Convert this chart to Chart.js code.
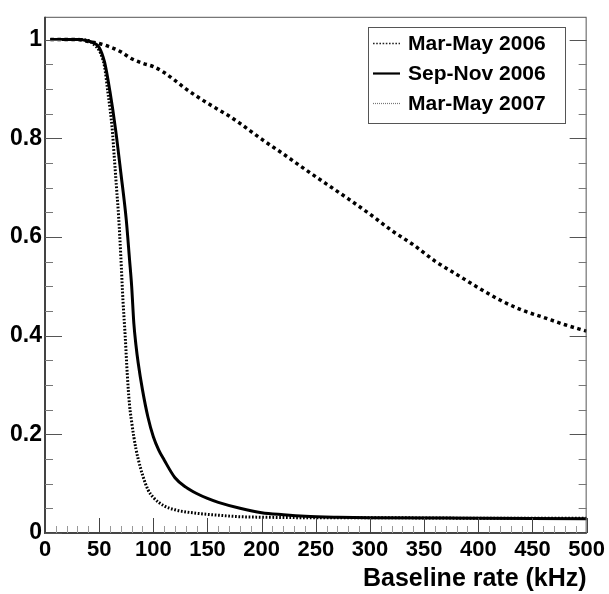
<!DOCTYPE html>
<html>
<head>
<meta charset="UTF-8" />
<title>Baseline rate efficiency</title>
<style>
  html,body{margin:0;padding:0;background:#fff;}
  #wrap{width:609px;height:594px;position:relative;}
</style>
<script src="https://cdn.jsdelivr.net/npm/chart.js"></script>
</head>
<body>
<div id="wrap"><canvas id="chart" width="609" height="594"></canvas></div>
<script>
/* ---- data ---- */
const rateMar06 = [5,20,30,40,50,60,70,80,90,100,110,120,130,140,150,160,170,180,190,200,220,240,260,280,300,320,340,360,380,400,420,440,460,480,500];
const effMar06  = [1.0,1.0,1.0,0.996,0.992,0.985,0.975,0.961,0.952,0.945,0.933,0.917,0.900,0.885,0.871,0.858,0.845,0.830,0.814,0.798,0.768,0.737,0.707,0.677,0.646,0.613,0.584,0.551,0.524,0.497,0.472,0.452,0.437,0.422,0.409];

const rateSep06 = [5,20,30,40,45,50,55,60,65,70,75,78,80,82,84,86,90,95,100,105,110,120,130,140,150,160,180,200,220,240,270,300,400,500];
const effSep06  = [1.0,1.0,1.0,0.997,0.993,0.984,0.954,0.894,0.82,0.73,0.635,0.555,0.50,0.425,0.38,0.345,0.29,0.235,0.195,0.168,0.148,0.112,0.093,0.080,0.070,0.062,0.050,0.041,0.037,0.034,0.032,0.031,0.030,0.029];

const rateMar07 = [5,20,30,40,45,50,53,55,58,60,62,64,66,68,70,72,74,76,78,80,82,84,86,90,95,100,110,120,140,160,180,200,250,300,400,500];
const effMar07  = [1.0,1.0,1.0,0.998,0.99,0.978,0.962,0.945,0.894,0.86,0.82,0.76,0.70,0.64,0.56,0.47,0.40,0.32,0.26,0.225,0.195,0.17,0.15,0.118,0.088,0.072,0.055,0.047,0.040,0.036,0.033,0.032,0.031,0.031,0.030,0.030];

const seriesNames = ['Mar-May 2006','Sep-Nov 2006','Mar-May 2007'];

const xTicks = [0,50,100,150,200,250,300,350,400,450,500];
const yTicks = [0,0.2,0.4,0.6,0.8,1];
const yTickLabels = ['0','0.2','0.4','0.6','0.8','1'];
const X_MAX = 500, Y_MAX = 1.046;

const FONT = '"Liberation Sans", Arial, Helvetica, sans-serif';

function pts(xs, ys){ return xs.map((x,i)=>({x:x,y:ys[i]})); }

/* ---- frame, inward ticks and legend, ROOT style ---- */
const rootFrame = {
  id:'rootFrame',
  afterDatasetsDraw(chart){
    const c = chart.ctx, a = chart.chartArea;
    const xs = chart.scales.x, ys = chart.scales.y;
    c.save();
    // frame
    c.strokeStyle = '#555'; c.lineWidth = 1;
    c.strokeRect(a.left+0.5, a.top+0.5, a.right-a.left-1, a.bottom-a.top-1);
    c.lineWidth = 2; c.strokeStyle = '#444';
    c.beginPath(); c.moveTo(a.left, a.top); c.lineTo(a.left, a.bottom); c.lineTo(a.right, a.bottom); c.stroke();

    // x ticks (bottom, pointing up)
    c.lineWidth = 1;
    for(let v=0; v<=X_MAX; v+=10){
      const major = v % 50 === 0;
      const px = Math.round(xs.getPixelForValue(v)) + 0.5;
      c.strokeStyle = major ? '#444' : '#999';
      c.beginPath(); c.moveTo(px, a.bottom); c.lineTo(px, a.bottom - (major ? 15 : 7)); c.stroke();
    }
    // y ticks (left and right, pointing in)
    for(let k=0; k<=20; k++){
      const v = k*0.05;
      const major = k % 4 === 0;
      const py = Math.round(ys.getPixelForValue(v)) + 0.5;
      const len = major ? 17 : 8;
      c.strokeStyle = major ? '#555' : '#777';
      c.beginPath(); c.moveTo(a.left, py); c.lineTo(a.left + len, py); c.stroke();
      c.beginPath(); c.moveTo(a.right, py); c.lineTo(a.right - len, py); c.stroke();
    }

    // legend
    const bx = 368, by = 27, bw = 197, bh = 96;
    c.fillStyle = '#fff'; c.fillRect(bx, by, bw, bh);
    c.strokeStyle = '#555'; c.lineWidth = 1;
    c.strokeRect(bx+0.5, by+0.5, bw, bh);
    const legendStyle = [
      {w:1.6, dash:[1.6,1.6], col:'#222'},
      {w:2.2, dash:[], col:'#000'},
      {w:1.2, dash:[1,1], col:'#777'}
    ];
    c.font = 'bold 21px ' + FONT;
    c.textBaseline = 'middle'; c.textAlign = 'left';
    chart.data.datasets.forEach((d,i)=>{
      const ly = by + 16 + i*30;
      const s = legendStyle[i];
      c.strokeStyle = s.col; c.lineWidth = s.w; c.setLineDash(s.dash);
      c.beginPath(); c.moveTo(bx+5, ly+0.5); c.lineTo(bx+32, ly+0.5); c.stroke();
      c.setLineDash([]);
      c.fillStyle = '#000';
      c.fillText(d.label, bx+40, ly+1);
    });
    c.restore();
  }
};

const ctx = document.getElementById('chart').getContext('2d');
new Chart(ctx, {
  type:'line',
  data:{
    datasets:[
      {label:seriesNames[0], data:pts(rateMar06, effMar06), borderColor:'#000', borderWidth:3.5, borderDash:[3.5,3.5],
       pointRadius:0, cubicInterpolationMode:'monotone', fill:false},
      {label:seriesNames[1], data:pts(rateSep06, effSep06), borderColor:'#000', borderWidth:3,
       pointRadius:0, cubicInterpolationMode:'monotone', fill:false},
      {label:seriesNames[2], data:pts(rateMar07, effMar07), borderColor:'#000', borderWidth:3, borderDash:[1.7,1.7],
       pointRadius:0, cubicInterpolationMode:'monotone', fill:false}
    ]
  },
  options:{
    responsive:false, animation:false, devicePixelRatio:1,
    layout:{padding:{top:11, right:21, left:0, bottom:0}},
    plugins:{legend:{display:false}, tooltip:{enabled:false}},
    scales:{
      x:{
        type:'linear', min:0, max:X_MAX,
        afterBuildTicks:s=>{ s.ticks = xTicks.map(v=>({value:v})); },
        afterFit:s=>{ s.height = 61; },
        grid:{display:false, drawTicks:false},
        border:{display:false},
        ticks:{color:'#000', font:{family:FONT, size:22, weight:'bold'}, padding:4, maxRotation:0, autoSkip:false},
        title:{display:true, text:'Baseline rate (kHz)', align:'end', color:'#000',
               font:{family:FONT, size:25, weight:'bold'}, padding:{top:0,bottom:0}}
      },
      y:{
        type:'linear', min:0, max:Y_MAX,
        afterBuildTicks:s=>{ s.ticks = yTicks.map(v=>({value:v})); },
        afterFit:s=>{ s.width = 45; },
        grid:{display:false, drawTicks:false},
        border:{display:false},
        ticks:{color:'#000', font:{family:FONT, size:23, weight:'bold'}, padding:3, autoSkip:false,
               callback:(v)=>{ const i = yTicks.findIndex(t=>Math.abs(t-v)<1e-6); return i>=0 ? yTickLabels[i] : ''; }}
      }
    }
  },
  plugins:[rootFrame]
});
</script>
</body>
</html>
